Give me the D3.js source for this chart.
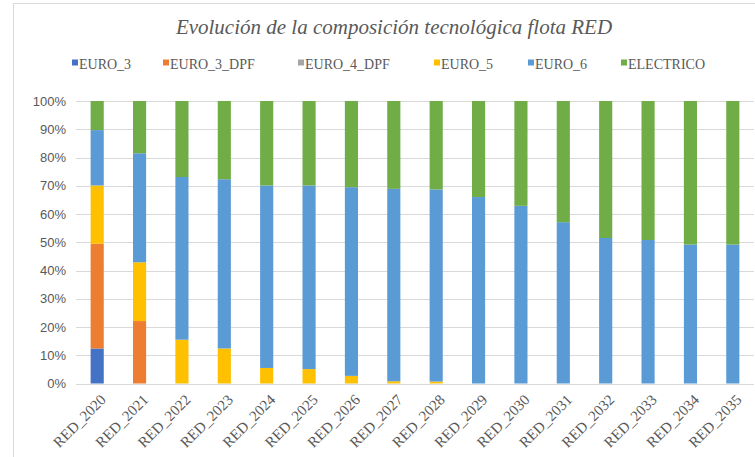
<!DOCTYPE html>
<html>
<head>
<meta charset="utf-8">
<script src="https://cdn.jsdelivr.net/npm/d3@7"></script>
<style>
  body { margin: 0; background: #fff; }
  svg { display: block; }
</style>
</head>
<body>
<div id="chart"></div>
<script>
// categorias y series (porcentaje de la flota)
const categories = ["RED_2020","RED_2021","RED_2022","RED_2023","RED_2024","RED_2025","RED_2026","RED_2027",
                    "RED_2028","RED_2029","RED_2030","RED_2031","RED_2032","RED_2033","RED_2034","RED_2035"];
const euro3     = [12.4, 0, 0, 0, 0, 0, 0, 0, 0, 0, 0, 0, 0, 0, 0, 0];
const euro3dpf  = [37.1, 22.1, 0, 0, 0, 0, 0, 0, 0, 0, 0, 0, 0, 0, 0, 0];
const euro4dpf  = [0, 0, 0, 0, 0, 0, 0, 0, 0, 0, 0, 0, 0, 0, 0, 0];
const euro5     = [20.6, 20.8, 15.5, 12.4, 5.5, 5.1, 2.7, 0.8, 0.7, 0, 0, 0, 0, 0, 0, 0];
const euro6     = [19.6, 38.6, 57.6, 59.9, 64.6, 65.0, 66.8, 68.1, 68.0, 66.0, 62.9, 57.1, 51.5, 50.8, 49.2, 49.2];
const electrico = [10.3, 18.5, 26.9, 27.7, 29.9, 29.9, 30.5, 31.1, 31.3, 34.0, 37.1, 42.9, 48.5, 49.2, 50.8, 50.8];
const seriesNames = ["EURO_3", "EURO_3_DPF", "EURO_4_DPF", "EURO_5", "EURO_6", "ELECTRICO"];
const seriesColors = ["#4472C4", "#ED7D31", "#A5A5A5", "#FFC000", "#5B9BD5", "#70AD47"];
const yTicks = [0, 0.1, 0.2, 0.3, 0.4, 0.5, 0.6, 0.7, 0.8, 0.9, 1];

const width = 755, height = 457;
const margin = { top: 101, right: 1, bottom: 74, left: 76 };
const serif = "'Liberation Serif', 'Times New Roman', serif";

// tabla para d3.stack
const allValues = [euro3, euro3dpf, euro4dpf, euro5, euro6, electrico];
const table = categories.map((c, i) => {
  const row = { cat: c };
  let total = 0;
  allValues.forEach(v => total += v[i]);
  seriesNames.forEach((s, k) => row[s] = allValues[k][i] / total);
  return row;
});
const stacked = d3.stack().keys(seriesNames)(table);

const svg = d3.select("#chart").append("svg")
  .attr("width", width).attr("height", height);

// marco del grafico
svg.append("rect")
  .attr("x", 13.5).attr("y", 3.5)
  .attr("width", 800).attr("height", 600)
  .attr("fill", "none").attr("stroke", "#D9D9D9");

const x = d3.scaleBand()
  .domain(categories)
  .range([margin.left, width - margin.right])
  .paddingInner(0.69).paddingOuter(0.345);

const y = d3.scaleLinear()
  .domain([0, 1])
  .range([height - margin.bottom + 0.5, margin.top]);

// lineas de cuadricula
svg.append("g")
  .selectAll("line")
  .data(yTicks)
  .join("line")
  .attr("x1", margin.left).attr("x2", width - margin.right)
  .attr("y1", d => Math.round(y(d)) + 0.5).attr("y2", d => Math.round(y(d)) + 0.5)
  .attr("stroke", "#D9D9D9").attr("stroke-width", 1);

// barras
svg.append("g")
  .selectAll("g")
  .data(stacked)
  .join("g")
  .attr("fill", (d, i) => seriesColors[i])
  .selectAll("rect")
  .data(d => d)
  .join("rect")
  .attr("x", d => x(d.data.cat))
  .attr("width", x.bandwidth())
  .attr("y", d => y(d[1]))
  .attr("height", d => Math.max(0, y(d[0]) - y(d[1])));

// eje y
const yAxis = svg.append("g")
  .attr("transform", `translate(${margin.left}, 0)`)
  .call(d3.axisLeft(y).tickValues(yTicks).tickFormat(d3.format(".0%")).tickSize(0).tickPadding(10));
yAxis.select(".domain").remove();
yAxis.selectAll("text")
  .style("font-family", "'Liberation Sans', Arial, sans-serif")
  .style("font-size", "13px")
  .attr("fill", "#595959");

// eje x
const xAxis = svg.append("g")
  .attr("transform", `translate(0, ${height - margin.bottom})`)
  .call(d3.axisBottom(x).tickSize(0).tickPadding(0));
xAxis.select(".domain").remove();
xAxis.selectAll("text")
  .style("font-family", serif)
  .style("font-size", "15px")
  .attr("fill", "#595959")
  .attr("text-anchor", "end")
  .attr("y", 0)
  .attr("dy", "0.35em")
  .attr("transform", "translate(6, 14) rotate(-45)");

// titulo
svg.append("text")
  .attr("x", 394).attr("y", 34)
  .attr("text-anchor", "middle")
  .style("font-family", serif)
  .style("font-style", "italic")
  .style("font-size", "21px")
  .attr("fill", "#595959")
  .text("Evolución de la composición tecnológica flota RED");

// leyenda
const legendX = [72, 163, 298, 434, 528, 621];
const legend = svg.append("g")
  .selectAll("g")
  .data(seriesNames)
  .join("g")
  .attr("transform", (d, i) => `translate(${legendX[i]}, 64)`);
legend.append("rect")
  .attr("x", 0).attr("y", -4.5).attr("width", 6).attr("height", 6)
  .attr("fill", (d, i) => seriesColors[i]);
legend.append("text")
  .attr("x", 7).attr("y", 5)
  .style("font-family", serif)
  .style("font-size", "14px")
  .attr("fill", "#595959")
  .text(d => d);
</script>
</body>
</html>
